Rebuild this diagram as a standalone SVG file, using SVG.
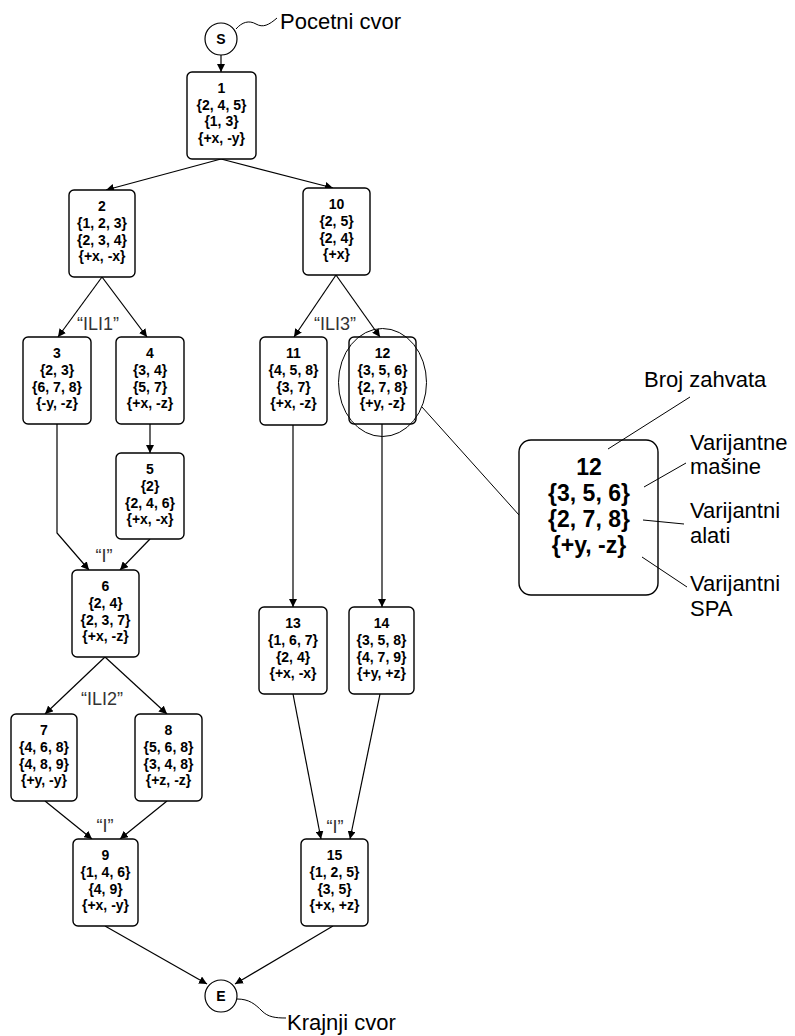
<svg xmlns="http://www.w3.org/2000/svg" width="795" height="1036" viewBox="0 0 795 1036">
  <defs>
    <marker id="arrow" viewBox="0 0 10 10" refX="10" refY="5" markerWidth="8" markerHeight="8" markerUnits="userSpaceOnUse" orient="auto">
      <path d="M0,0 L10,5 L0,10 z" fill="#000"/>
    </marker>
    <style>
      .box { fill: #fff; stroke: #000; stroke-width: 1.4; }
      .nt { font-family: "Liberation Sans", Arial, sans-serif; font-size: 14px; font-weight: bold; text-anchor: middle; fill: #000; }
      .big { font-family: "Liberation Sans", Arial, sans-serif; font-size: 23px; font-weight: bold; text-anchor: middle; fill: #000; }
      .note { font-family: "Liberation Sans", Arial, sans-serif; font-size: 22px; fill: #000; }
      .lbl { font-family: "Liberation Sans", Arial, sans-serif; font-size: 18px; fill: #333; text-anchor: middle; }
      .edge { fill: none; stroke: #000; stroke-width: 1.2; marker-end: url(#arrow); }
      .thin { fill: none; stroke: #000; stroke-width: 1; }
    </style>
  </defs>
  <rect width="795" height="1036" fill="#fff"/>

  <!-- connectors -->
  <g id="connectors">
    <line class="edge" x1="221" y1="55" x2="221" y2="72"/>
    <line class="edge" x1="221" y1="159" x2="106" y2="190"/>
    <line class="edge" x1="221" y1="159" x2="333" y2="188"/>
    <line class="edge" x1="102" y1="277" x2="58" y2="337"/>
    <line class="edge" x1="102" y1="277" x2="147" y2="337"/>
    <line class="edge" x1="150" y1="424" x2="150" y2="453"/>
    <polyline class="edge" points="57,424 57,533 89,570"/>
    <line class="edge" x1="150" y1="539" x2="120" y2="570"/>
    <line class="edge" x1="105" y1="657" x2="45" y2="714"/>
    <line class="edge" x1="105" y1="657" x2="167" y2="714"/>
    <line class="edge" x1="45" y1="801" x2="92" y2="839"/>
    <line class="edge" x1="167" y1="801" x2="120" y2="839"/>
    <line class="edge" x1="336" y1="275" x2="294" y2="337"/>
    <line class="edge" x1="336" y1="275" x2="380" y2="337"/>
    <line class="edge" x1="293" y1="425" x2="293" y2="607"/>
    <line class="edge" x1="382" y1="424" x2="382" y2="607"/>
    <line class="edge" x1="293" y1="694" x2="321" y2="839"/>
    <line class="edge" x1="380" y1="694" x2="350" y2="839"/>
    <line class="edge" x1="105" y1="926" x2="207" y2="984"/>
    <line class="edge" x1="333" y1="926" x2="235" y2="984"/>
    <!-- callout from node 12 to the enlarged legend box -->
    <line class="thin" x1="422" y1="407" x2="519" y2="515"/>
    <!-- wavy pointers to start/end captions -->
    <path class="thin" d="M236,29 C242,22 249,20 256,24 C263,28 269,25 277,18"/>
    <path class="thin" d="M237,999 C249,999 255,1004 262,1011 C268,1017 275,1018 286,1018"/>
  </g>

  <!-- start node -->
  <g id="start">
    <circle cx="221" cy="39" r="16" fill="#fff" stroke="#000" stroke-width="1.2"/>
    <text class="nt" x="221" y="44" font-size="13">S</text>
    <text class="note" x="280" y="29">Pocetni cvor</text>
  </g>

  <g id="n1">
    <rect class="box" x="187" y="72" width="69" height="87" rx="5"/>
    <text class="nt" x="221.5" y="93">1</text>
    <text class="nt" x="221.5" y="110">{2, 4, 5}</text>
    <text class="nt" x="221.5" y="126">{1, 3}</text>
    <text class="nt" x="221.5" y="143">{+x, -y}</text>
  </g>

  <g id="n2">
    <rect class="box" x="69" y="190" width="66" height="87" rx="5"/>
    <text class="nt" x="102" y="211">2</text>
    <text class="nt" x="102" y="228">{1, 2, 3}</text>
    <text class="nt" x="102" y="245">{2, 3, 4}</text>
    <text class="nt" x="102" y="261">{+x, -x}</text>
  </g>

  <g id="n3">
    <rect class="box" x="23" y="337" width="68" height="87" rx="5"/>
    <text class="nt" x="57" y="358">3</text>
    <text class="nt" x="57" y="375">{2, 3}</text>
    <text class="nt" x="57" y="392">{6, 7, 8}</text>
    <text class="nt" x="57" y="408">{-y, -z}</text>
  </g>

  <g id="n4">
    <rect class="box" x="116" y="337" width="68" height="87" rx="5"/>
    <text class="nt" x="150" y="358">4</text>
    <text class="nt" x="150" y="375">{3, 4}</text>
    <text class="nt" x="150" y="392">{5, 7}</text>
    <text class="nt" x="150" y="408">{+x, -z}</text>
  </g>

  <g id="n5">
    <rect class="box" x="116" y="453" width="68" height="86" rx="5"/>
    <text class="nt" x="150" y="474">5</text>
    <text class="nt" x="150" y="491">{2}</text>
    <text class="nt" x="150" y="508">{2, 4, 6}</text>
    <text class="nt" x="150" y="524">{+x, -x}</text>
  </g>

  <g id="n6">
    <rect class="box" x="72" y="570" width="67" height="87" rx="5"/>
    <text class="nt" x="105.5" y="591">6</text>
    <text class="nt" x="105.5" y="608">{2, 4}</text>
    <text class="nt" x="105.5" y="625">{2, 3, 7}</text>
    <text class="nt" x="105.5" y="641">{+x, -z}</text>
  </g>

  <g id="n7">
    <rect class="box" x="11" y="714" width="66" height="87" rx="5"/>
    <text class="nt" x="44" y="735">7</text>
    <text class="nt" x="44" y="752">{4, 6, 8}</text>
    <text class="nt" x="44" y="769">{4, 8, 9}</text>
    <text class="nt" x="44" y="785">{+y, -y}</text>
  </g>

  <g id="n8">
    <rect class="box" x="135" y="714" width="67" height="87" rx="5"/>
    <text class="nt" x="168.5" y="735">8</text>
    <text class="nt" x="168.5" y="752">{5, 6, 8}</text>
    <text class="nt" x="168.5" y="769">{3, 4, 8}</text>
    <text class="nt" x="168.5" y="785">{+z, -z}</text>
  </g>

  <g id="n9">
    <rect class="box" x="73" y="839" width="65" height="87" rx="5"/>
    <text class="nt" x="105.5" y="860">9</text>
    <text class="nt" x="105.5" y="877">{1, 4, 6}</text>
    <text class="nt" x="105.5" y="894">{4, 9}</text>
    <text class="nt" x="105.5" y="910">{+x, -y}</text>
  </g>

  <g id="n10">
    <rect class="box" x="303" y="188" width="67" height="87" rx="5"/>
    <text class="nt" x="336.5" y="209">10</text>
    <text class="nt" x="336.5" y="226">{2, 5}</text>
    <text class="nt" x="336.5" y="243">{2, 4}</text>
    <text class="nt" x="336.5" y="259">{+x}</text>
  </g>

  <g id="n11">
    <rect class="box" x="260" y="337" width="67" height="88" rx="5"/>
    <text class="nt" x="293.5" y="358">11</text>
    <text class="nt" x="293.5" y="375">{4, 5, 8}</text>
    <text class="nt" x="293.5" y="392">{3, 7}</text>
    <text class="nt" x="293.5" y="408">{+x, -z}</text>
  </g>

  <g id="n12">
    <rect class="box" x="349" y="337" width="67" height="87" rx="5"/>
    <text class="nt" x="382.5" y="358">12</text>
    <text class="nt" x="382.5" y="375">{3, 5, 6}</text>
    <text class="nt" x="382.5" y="392">{2, 7, 8}</text>
    <text class="nt" x="382.5" y="408">{+y, -z}</text>
    <ellipse cx="382.5" cy="382.5" rx="44" ry="54" fill="none" stroke="#000" stroke-width="1"/>
  </g>

  <g id="n13">
    <rect class="box" x="259" y="607" width="68" height="87" rx="5"/>
    <text class="nt" x="293" y="628">13</text>
    <text class="nt" x="293" y="645">{1, 6, 7}</text>
    <text class="nt" x="293" y="662">{2, 4}</text>
    <text class="nt" x="293" y="678">{+x, -x}</text>
  </g>

  <g id="n14">
    <rect class="box" x="349" y="607" width="65" height="87" rx="5"/>
    <text class="nt" x="381.5" y="628">14</text>
    <text class="nt" x="381.5" y="645">{3, 5, 8}</text>
    <text class="nt" x="381.5" y="662">{4, 7, 9}</text>
    <text class="nt" x="381.5" y="678">{+y, +z}</text>
  </g>

  <g id="n15">
    <rect class="box" x="301" y="839" width="67" height="87" rx="5"/>
    <text class="nt" x="334.5" y="860">15</text>
    <text class="nt" x="334.5" y="877">{1, 2, 5}</text>
    <text class="nt" x="334.5" y="894">{3, 5}</text>
    <text class="nt" x="334.5" y="910">{+x, +z}</text>
  </g>

  <!-- end node -->
  <g id="end">
    <circle cx="221" cy="996" r="16" fill="#fff" stroke="#000" stroke-width="1.2"/>
    <text class="nt" x="221" y="1001" font-size="13">E</text>
    <text class="note" x="287" y="1030">Krajnji cvor</text>
  </g>

  <!-- branch labels -->
  <g id="labels">
    <text class="lbl" x="98" y="330">“ILI1”</text>
    <text class="lbl" x="335" y="330">“ILI3”</text>
    <text class="lbl" x="104" y="562">“I”</text>
    <text class="lbl" x="102" y="705">“ILI2”</text>
    <text class="lbl" x="105" y="832">“I”</text>
    <text class="lbl" x="335" y="833">“I”</text>
  </g>

  <!-- enlarged legend of a node, leader lines drawn over the box -->
  <g id="legend">
    <rect class="box" x="519" y="440" width="139" height="155" rx="12"/>
    <text class="big" x="589" y="475">12</text>
    <text class="big" x="589" y="501">{3, 5, 6}</text>
    <text class="big" x="589" y="527">{2, 7, 8}</text>
    <text class="big" x="589" y="553">{+y, -z}</text>
    <line class="thin" x1="608" y1="449" x2="690" y2="397"/>
    <line class="thin" x1="644" y1="487" x2="686" y2="463"/>
    <line class="thin" x1="643" y1="520" x2="684" y2="524"/>
    <line class="thin" x1="642" y1="557" x2="687" y2="587"/>
    <text class="note" x="644" y="387">Broj zahvata</text>
    <text class="note" x="690" y="450">Varijantne</text>
    <text class="note" x="690" y="474">mašine</text>
    <text class="note" x="690" y="518">Varijantni</text>
    <text class="note" x="690" y="543">alati</text>
    <text class="note" x="690" y="591">Varijantni</text>
    <text class="note" x="690" y="616">SPA</text>
  </g>
</svg>
